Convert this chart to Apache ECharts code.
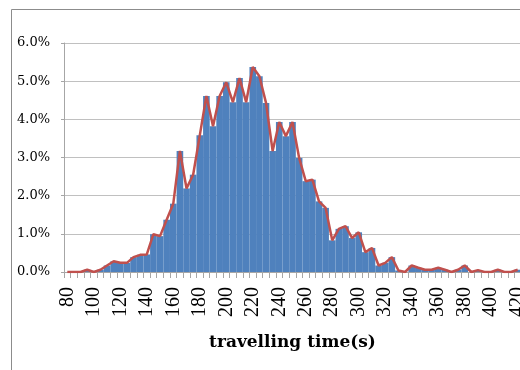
<!DOCTYPE html>
<html>
<head>
<meta charset="utf-8">
<script src="https://cdn.jsdelivr.net/npm/echarts@6/dist/echarts.min.js"></script>
<style>
html,body{margin:0;padding:0;background:#fff;}
#c{width:520px;height:370px;}
</style>
</head>
<body>
<div id="c"></div>
<script>
// travelling time categories (s)
var categories = [80,85,90,95,100,105,110,115,120,125,130,135,140,145,150,155,160,165,170,175,
  180,185,190,195,200,205,210,215,220,225,230,235,240,245,250,255,260,265,270,275,
  280,285,290,295,300,305,310,315,320,325,330,335,340,345,350,355,360,365,370,375,
  380,385,390,395,400,405,410,415,420];
// share of trips (%)
var shareValues = [0,0,0,0.06,0,0.06,0.17,0.28,0.24,0.24,0.39,0.45,0.46,0.99,0.94,1.37,1.79,3.17,2.19,2.55,
  3.58,4.61,3.82,4.61,4.97,4.45,5.08,4.45,5.37,5.13,4.43,3.17,3.93,3.56,3.93,2.99,2.38,2.42,1.85,1.68,
  0.83,1.13,1.20,0.89,1.04,0.52,0.63,0.17,0.24,0.39,0.04,0,0.17,0.11,0.06,0.06,0.11,0.06,0,0.06,
  0.17,0,0.05,0,0,0.06,0,0,0.06];
var yTicks = [0,1,2,3,4,5,6];

var chart = echarts.init(document.getElementById('c'), null, {renderer:'canvas'});
chart.setOption({
  animation:false,
  backgroundColor:'#ffffff',
  graphic:[{type:'rect', shape:{x:11.5,y:9.5,width:560,height:420},
    style:{fill:'none',stroke:'#8c8c8c',lineWidth:1}, silent:true}],
  grid:{left:64, top:43, width:457, bottom:98, containLabel:false, outerBoundsMode:'none'},
  xAxis:{
    type:'category', data:categories.map(String), boundaryGap:true,
    axisLine:{lineStyle:{color:'#a6a6a6',width:1}},
    axisTick:{show:true, interval:0, length:6, lineStyle:{color:'#a6a6a6'}},
    axisLabel:{interval:3, rotate:90, margin:15, color:'#000', hideOverlap:false,
      fontFamily:'Liberation Serif', fontSize:20},
    name:'travelling time(s)', nameLocation:'middle', nameGap:62,
    nameTextStyle:{fontFamily:'DejaVu Serif', fontWeight:'bold', fontSize:17, color:'#000'}
  },
  yAxis:{
    type:'value', min:yTicks[0], max:yTicks[yTicks.length-1], interval:1,
    axisLine:{show:true, lineStyle:{color:'#a6a6a6'}},
    axisTick:{show:true, length:3, lineStyle:{color:'#a6a6a6'}},
    splitLine:{show:true, lineStyle:{color:'#c0c0c0', width:1}},
    axisLabel:{margin:14, color:'#000', fontFamily:'DejaVu Serif', fontSize:13,
      formatter:function(v){return v.toFixed(1)+'%';}}
  },
  series:[
    {type:'bar', data:shareValues, barCategoryGap:'0%', itemStyle:{color:'#4f81bd'}, z:2},
    {type:'line', data:shareValues, showSymbol:false, symbol:'none',
      lineStyle:{color:'#c0504d', width:2.5}, z:3}
  ]
});
</script>
</body>
</html>
